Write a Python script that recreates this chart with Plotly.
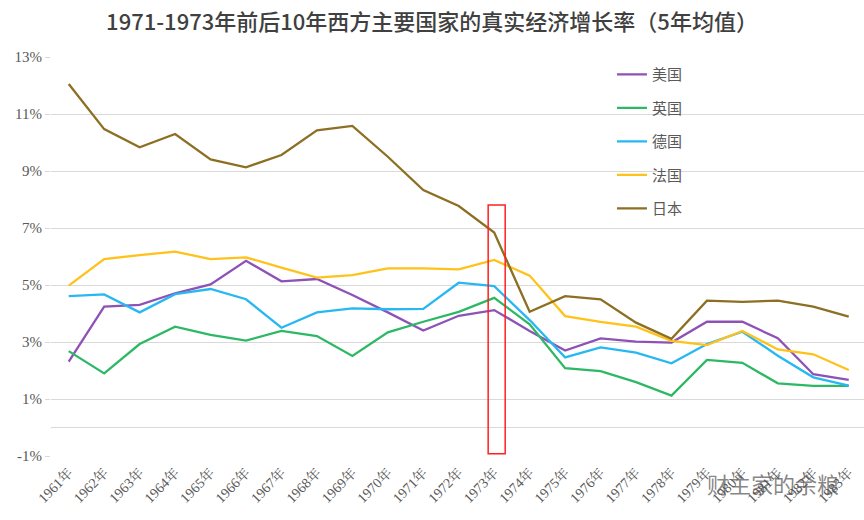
import plotly.graph_objects as go

years = [f"{y}年" for y in range(1961, 1984)]

usa = [2.31, 4.24, 4.30, 4.71, 5.02, 5.85, 5.13, 5.21, 4.65, 4.04, 3.40, 3.92, 4.12,
       3.39, 2.70, 3.13, 3.01, 2.98, 3.71, 3.71, 3.13, 1.87, 1.67]
uk = [2.68, 1.90, 2.93, 3.54, 3.25, 3.05, 3.39, 3.21, 2.51, 3.34, 3.71, 4.06, 4.55,
      3.62, 2.08, 1.98, 1.59, 1.12, 2.37, 2.27, 1.55, 1.46, 1.46]
germany = [4.61, 4.67, 4.04, 4.68, 4.86, 4.50, 3.50, 4.04, 4.18, 4.15, 4.16, 5.08, 4.96,
           3.77, 2.46, 2.81, 2.63, 2.25, 2.93, 3.36, 2.52, 1.76, 1.47]
france = [4.98, 5.91, 6.05, 6.17, 5.91, 5.97, 5.61, 5.26, 5.35, 5.58, 5.58, 5.55, 5.88,
          5.33, 3.91, 3.71, 3.54, 3.04, 2.89, 3.39, 2.74, 2.57, 2.02]
japan = [12.05, 10.47, 9.83, 10.30, 9.41, 9.13, 9.56, 10.43, 10.58, 9.50, 8.33, 7.77, 6.84,
         4.06, 4.61, 4.50, 3.68, 3.11, 4.45, 4.41, 4.45, 4.24, 3.89]

series = [
    ("美国", usa, "#8E52B6"),
    ("英国", uk, "#2DB865"),
    ("德国", germany, "#27B8F2"),
    ("法国", france, "#FFC21A"),
    ("日本", japan, "#8C6F22"),
]

y_ticks = [-1, 1, 3, 5, 7, 9, 11, 13]

fig = go.Figure()
for i, (name, vals, col) in enumerate(series):
    fig.add_trace(go.Scatter(
        x=years, y=vals, mode="lines", name=name,
        line=dict(color=col, width=2.3),
        legendgroup=f"g{i}",
    ))

# highlight box around 1973
fig.add_shape(type="rect", xref="x", yref="y",
              x0=11.83, x1=12.31, y0=-0.92, y1=7.81,
              line=dict(color="#FF2020", width=1.5), fillcolor="rgba(0,0,0,0)")

fig.add_annotation(text="财主家的余粮", xref="paper", yref="paper",
                   x=0.888, y=-0.068, xanchor="center", yanchor="middle",
                   showarrow=False,
                   font=dict(family="Noto Sans CJK SC", size=22, color="rgba(80,80,80,0.7)"))

fig.update_layout(
    width=864, height=520,
    margin=dict(l=51, r=0, t=57, b=64),
    paper_bgcolor="white", plot_bgcolor="white",
    title=dict(text="1971-1973年前后10年西方主要国家的真实经济增长率（5年均值）",
               x=0.5, xanchor="center", y=0.957, yanchor="middle",
               font=dict(family="Noto Sans CJK SC", size=22, color="#404040", weight=500)),
    legend=dict(x=0.69, y=0.997, xanchor="left", yanchor="top",
                font=dict(family="Noto Sans CJK SC", size=15, color="#595959"),
                tracegroupgap=11, bgcolor="rgba(0,0,0,0)"),
    showlegend=True,
)
fig.update_xaxes(
    type="category", range=[-0.5, 22.43],
    tickangle=-45, showgrid=False, showline=False, ticks="",
    ticklabelstandoff=5,
    tickfont=dict(family="Liberation Serif, Noto Serif CJK SC, Noto Sans CJK SC", size=14, color="#595959"),
)
fig.update_yaxes(
    range=[-1, 13], tickmode="array", tickvals=y_ticks,
    ticktext=[f"{v}%" for v in y_ticks],
    showgrid=True, gridcolor="#D9D9D9", gridwidth=1,
    zeroline=True, zerolinecolor="#D9D9D9", zerolinewidth=1,
    ticks="outside", ticklen=5, tickcolor="#D9D9D9",
    tickfont=dict(family="Liberation Serif", size=15, color="#595959"),
    showline=False,
)

fig.write_html("out.html")
